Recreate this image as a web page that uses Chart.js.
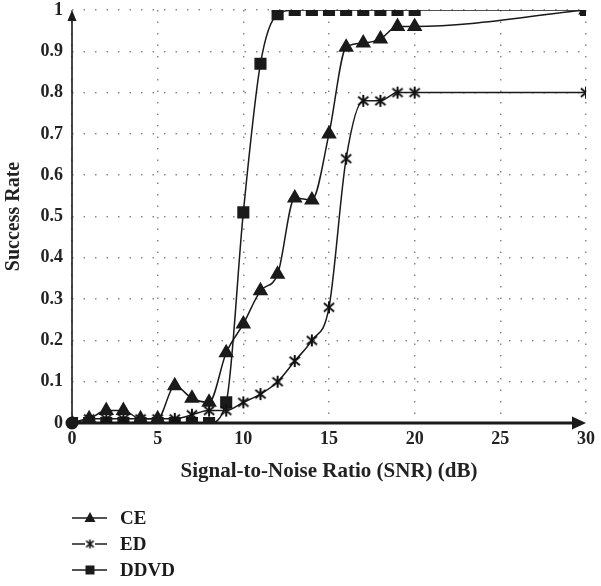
<!DOCTYPE html>
<html lang="en">
<head>
    <meta charset="UTF-8">
    <title>Success Rate vs SNR</title>
    <script src="https://cdn.jsdelivr.net/npm/chart.js"></script>
    <style>
        body { margin: 0; background: white; }
        .chart-box { width: 601px; height: 586px; position: relative; }
    </style>
</head>
<body>
    <div class="chart-box">
        <canvas id="snrChart"></canvas>
    </div>
    <script>
        // SNR points (dB)
        const snr = [0, 1, 2, 3, 4, 5, 6, 7, 8, 9, 10, 11, 12, 13, 14, 15, 16, 17, 18, 19, 20, 30];
        const ceRate = [0, 0.01, 0.03, 0.03, 0.01, 0.01, 0.09, 0.06, 0.05, 0.17, 0.24, 0.32, 0.36, 0.545, 0.54, 0.70, 0.91, 0.92, 0.93, 0.96, 0.96, 1.0];
        const edRate = [0, 0.01, 0.01, 0.01, 0.01, 0.01, 0.01, 0.02, 0.03, 0.03, 0.05, 0.07, 0.10, 0.15, 0.20, 0.28, 0.64, 0.78, 0.78, 0.80, 0.80, 0.80];
        const ddvdRate = [0, 0, 0, 0, 0, 0, 0, 0, 0, 0.05, 0.51, 0.87, 0.99, 1, 1, 1, 1, 1, 1, 1, 1, 1];
        const yTickLabels = ['0', '0.1', '0.2', '0.3', '0.4', '0.5', '0.6', '0.7', '0.8', '0.9', '1'];
        const xTickLabels = ['0', '5', '10', '15', '20', '25', '30'];

        const serif = "'Liberation Serif', 'DejaVu Serif', serif";

        // asterisk marker: an X with a vertical stroke
        function makeStar(size, lw) {
            const c = document.createElement('canvas');
            c.width = size; c.height = size;
            const g = c.getContext('2d');
            const m = size / 2, r = size / 2 - 1;
            g.strokeStyle = '#111';
            g.lineWidth = lw;
            g.beginPath();
            g.moveTo(m - r * 0.85, m - r * 0.7); g.lineTo(m + r * 0.85, m + r * 0.7);
            g.moveTo(m + r * 0.85, m - r * 0.7); g.lineTo(m - r * 0.85, m + r * 0.7);
            g.moveTo(m, m - r); g.lineTo(m, m + r);
            g.stroke();
            return c;
        }
        const starImg = makeStar(14, 2);

        function pts(vals) {
            return snr.map((x, i) => ({ x: x, y: vals[i] }));
        }

        const axesPlugin = {
            id: 'axes',
            beforeDatasetsDraw(chart) {
                const ctx = chart.ctx;
                const xs = chart.scales.x, ys = chart.scales.y;
                const x0 = xs.getPixelForValue(0), y0 = ys.getPixelForValue(0);
                const xEnd = xs.getPixelForValue(30), yTop = ys.getPixelForValue(1);
                ctx.save();
                ctx.fillStyle = '#1a1a1a';
                ctx.strokeStyle = '#1a1a1a';
                // y axis
                ctx.lineWidth = 1.6;
                ctx.beginPath();
                ctx.moveTo(x0, y0);
                ctx.lineTo(x0, yTop + 8);
                ctx.stroke();
                ctx.beginPath();
                ctx.moveTo(x0, yTop);
                ctx.lineTo(x0 - 4.5, yTop + 11);
                ctx.lineTo(x0 + 4.5, yTop + 11);
                ctx.closePath();
                ctx.fill();
                // x axis
                ctx.lineWidth = 3;
                ctx.beginPath();
                ctx.moveTo(x0, y0);
                ctx.lineTo(xEnd - 10, y0);
                ctx.stroke();
                ctx.beginPath();
                ctx.moveTo(xEnd, y0);
                ctx.lineTo(xEnd - 14, y0 - 6.5);
                ctx.lineTo(xEnd - 14, y0 + 6.5);
                ctx.closePath();
                ctx.fill();
                ctx.restore();
            },
            afterDatasetsDraw(chart) {
                const ctx = chart.ctx;
                const xs = chart.scales.x, ys = chart.scales.y;
                ctx.save();
                ctx.fillStyle = '#1a1a1a';
                ctx.beginPath();
                ctx.arc(xs.getPixelForValue(0), ys.getPixelForValue(0), 6.5, 0, Math.PI * 2);
                ctx.fill();

                // legend, stacked under the axis title
                const left = chart.chartArea.left;
                const rows = [518, 544, 570];
                ctx.font = 'bold 19px ' + serif;
                ctx.textBaseline = 'middle';
                chart.data.datasets.forEach((ds, i) => {
                    const y = rows[i];
                    ctx.strokeStyle = '#1a1a1a';
                    ctx.lineWidth = 1.6;
                    ctx.beginPath();
                    ctx.moveTo(left, y);
                    ctx.lineTo(left + 35, y);
                    ctx.stroke();
                    const mx = left + 18;
                    if (ds.pointStyle === 'triangle') {
                        ctx.beginPath();
                        ctx.moveTo(mx, y - 6);
                        ctx.lineTo(mx - 5.5, y + 4);
                        ctx.lineTo(mx + 5.5, y + 4);
                        ctx.closePath();
                        ctx.fill();
                    } else if (ds.pointStyle === 'rect') {
                        ctx.fillRect(mx - 4.5, y - 4.5, 9, 9);
                    } else {
                        ctx.fillStyle = 'white';
                        ctx.fillRect(mx - 5, y - 5, 10, 10);
                        ctx.fillStyle = '#1a1a1a';
                        ctx.drawImage(makeStar(11, 1.6), mx - 5.5, y - 5.5);
                    }
                    ctx.fillText(ds.label, left + 48, y + 1);
                });
                ctx.restore();
            }
        };

        const ctx = document.getElementById('snrChart').getContext('2d');
        new Chart(ctx, {
            type: 'scatter',
            data: {
                datasets: [
                    {
                        label: 'CE',
                        data: pts(ceRate),
                        showLine: true,
                        borderColor: '#1a1a1a',
                        backgroundColor: '#1a1a1a',
                        borderWidth: 1.5,
                        pointStyle: 'triangle',
                        pointRadius: 7.5,
                        cubicInterpolationMode: 'monotone'
                    },
                    {
                        label: 'ED',
                        data: pts(edRate),
                        showLine: true,
                        borderColor: '#1a1a1a',
                        backgroundColor: '#1a1a1a',
                        borderWidth: 1.5,
                        pointStyle: starImg,
                        pointRadius: 7,
                        cubicInterpolationMode: 'monotone'
                    },
                    {
                        label: 'DDVD',
                        data: pts(ddvdRate),
                        showLine: true,
                        borderColor: '#1a1a1a',
                        backgroundColor: '#1a1a1a',
                        borderWidth: 1.5,
                        pointStyle: 'rect',
                        pointRadius: 7.5,
                        cubicInterpolationMode: 'monotone'
                    }
                ]
            },
            options: {
                responsive: true,
                maintainAspectRatio: false,
                animation: false,
                layout: { padding: { top: 10, right: 11, bottom: 100, left: 0 } },
                plugins: {
                    legend: { display: false },
                    tooltip: { enabled: false }
                },
                scales: {
                    x: {
                        type: 'linear',
                        min: 0,
                        max: 30,
                        afterFit: s => { s.height = 63; },
                        grid: { color: '#8a8a8a', lineWidth: 1.5, drawTicks: false },
                        border: { display: false, dash: [1.5, 10] },
                        ticks: {
                            stepSize: 5,
                            padding: 6,
                            color: '#222',
                            font: { family: serif, size: 18, weight: 'bold' },
                            callback: (v, i) => xTickLabels[i]
                        },
                        title: {
                            display: true,
                            text: 'Signal-to-Noise Ratio (SNR) (dB)',
                            color: '#222',
                            font: { family: serif, size: 21, weight: 'bold' },
                            padding: { top: 4, bottom: 2 }
                        }
                    },
                    y: {
                        min: 0,
                        max: 1,
                        afterFit: s => { s.width = 72; s.paddingTop = 0; s.paddingBottom = 0; },
                        grid: { color: '#8a8a8a', lineWidth: 1.5, drawTicks: false },
                        border: { display: false, dash: [1.5, 10] },
                        ticks: {
                            stepSize: 0.1,
                            padding: 9,
                            color: '#222',
                            font: { family: serif, size: 18, weight: 'bold' },
                            callback: (v, i) => yTickLabels[i]
                        },
                        title: {
                            display: true,
                            text: 'Success Rate',
                            color: '#222',
                            font: { family: serif, size: 20, weight: 'bold' },
                            padding: { top: 2, bottom: 2 }
                        }
                    }
                }
            },
            plugins: [axesPlugin]
        });
    </script>
</body>
</html>
